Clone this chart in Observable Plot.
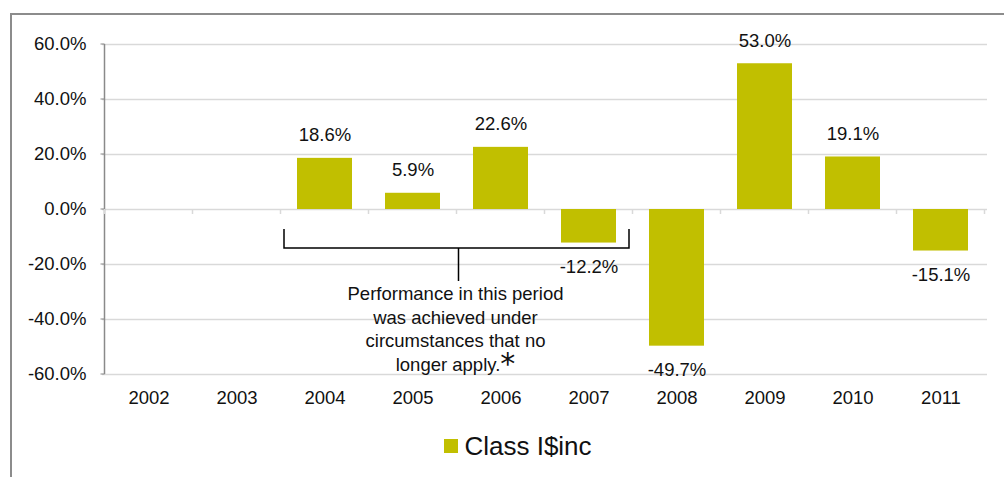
<!DOCTYPE html>
<html><head><meta charset="utf-8">
<script src="https://cdn.jsdelivr.net/npm/d3@7"></script>
<script src="https://cdn.jsdelivr.net/npm/@observablehq/plot@0.6"></script>
<style>
body{margin:0;background:#fff;font-family:"Liberation Sans",Arial,sans-serif;}
#wrap{position:relative;width:1004px;height:477px;overflow:hidden;}
#frame{position:absolute;left:10px;top:13px;width:1000px;height:470px;border-top:2px solid #8c8c8c;border-left:2px solid #8c8c8c;pointer-events:none;}
#legend{display:flex;justify-content:center;align-items:center;margin-top:12px;padding-left:32px;height:28px;font-size:26px;color:#111;}
#legend .sw{width:14px;height:14px;background:#c1bf00;margin-right:6px;}
</style></head>
<body>
<div id="wrap"><div id="chart"></div><div id="legend"></div><div id="frame"></div></div>
<script>
// ---- data ----
const years = ["2002","2003","2004","2005","2006","2007","2008","2009","2010","2011"];
const returns = [null, null, 18.6, 5.9, 22.6, -12.2, -49.7, 53.0, 19.1, -15.1];
const yTicks = [-60, -40, -20, 0, 20, 40, 60];
const seriesName = "Class I$inc";
const noteLines = ["Performance in this period", "was achieved under", "circumstances that no", "longer apply."];
const noteMark = "*";
const bracketFrom = "2004", bracketTo = "2007";
const bracketTop = -7.3, bracketBar = -14.2, stemEnd = -26.2, noteBaseline = -33.1;

// ---- styling ----
const barColor = "#c1bf00";
const gridColor = "#d9d9d9";
const axisColor = "#8a8a8a";
const font = "Liberation Sans, Arial, sans-serif";

const data = years.map((year, i) => ({year, value: returns[i]})).filter(d => d.value != null);
const fmt = v => v.toFixed(1) + "%";

function annotation(index, scales) {
  const x = scales.x, y = scales.y;
  const bw = x.bandwidth ? x.bandwidth() : 55;
  const st = x.step ? x.step() : 88.5;
  const pad = (st - bw) / 2;
  const left = d => x(d) - pad;
  const right = d => x(d) + bw + pad;
  const g = d3.create("svg:g");
  // y axis line
  const ax = left(years[0]);
  g.append("line").attr("x1", ax).attr("x2", ax).attr("y1", y(yTicks[0])).attr("y2", y(yTicks[yTicks.length - 1]))
    .attr("stroke", axisColor).attr("stroke-width", 1.5);
  // y ticks
  for (const t of yTicks) {
    g.append("line").attr("x1", ax - 4).attr("x2", ax).attr("y1", y(t)).attr("y2", y(t)).attr("stroke", axisColor);
  }
  // category boundary ticks on zero line
  const bounds = years.map(left).concat([right(years[years.length - 1])]);
  for (const b of bounds) {
    g.append("line").attr("x1", b).attr("x2", b).attr("y1", y(0)).attr("y2", y(0) + 5).attr("stroke", gridColor).attr("stroke-width", 1.5);
  }
  // bracket
  const bl = left(bracketFrom) + 3.5, br = right(bracketTo) - 3.5, bm = (bl + br) / 2 + 2;
  g.append("path")
    .attr("d", `M${bl},${y(bracketTop)}V${y(bracketBar)}H${br}V${y(bracketTop)}M${bm},${y(bracketBar)}V${y(stemEnd)}`)
    .attr("fill", "none").attr("stroke", "#000").attr("stroke-width", 1.5);
  // note text
  const tx = (bl + br) / 2 - 1;
  const t = g.append("g").attr("font-family", font).attr("font-size", 18.5).attr("text-anchor", "middle").attr("fill", "#111");
  noteLines.forEach((line, i) => {
    const el = t.append("text").attr("x", tx).attr("y", y(noteBaseline) + i * 23.5).text(line);
    if (i === noteLines.length - 1) {
      el.append("tspan").attr("font-family", "DejaVu Sans, sans-serif").attr("font-size", 30).attr("dy", 3).text(noteMark);
    }
  });
  return g.node();
}

const chart = Plot.plot({
  width: 1004,
  height: 420,
  marginLeft: 102,
  marginRight: 17,
  marginTop: 44,
  marginBottom: 46,
  style: {fontFamily: font, fontSize: "18.5px", color: "#111", background: "transparent"},
  x: {type: "band", domain: years, paddingInner: 0.38, paddingOuter: 0.19, align: 0.5, tickSize: 0, tickPadding: 16, label: null},
  y: {domain: [-60, 60], ticks: yTicks, tickFormat: fmt, tickSize: 0, tickPadding: 16, label: null},
  marks: [
    Plot.ruleY(yTicks, {stroke: gridColor, strokeWidth: 1.5}),
    Plot.barY(data, {x: "year", y: "value", fill: barColor}),
    Plot.text(data.filter(d => d.value >= 0), {x: "year", y: "value", text: d => fmt(d.value), dy: -23, lineAnchor: "middle", fill: "#111"}),
    Plot.text(data.filter(d => d.value < 0), {x: "year", y: "value", text: d => fmt(d.value), dy: 24, lineAnchor: "middle", fill: "#111"}),
    annotation
  ]
});
document.getElementById("chart").appendChild(chart);

const lg = document.getElementById("legend");
const sw = document.createElement("span"); sw.className = "sw"; lg.appendChild(sw);
const lt = document.createElement("span"); lt.textContent = seriesName; lg.appendChild(lt);
</script>
</body></html>
